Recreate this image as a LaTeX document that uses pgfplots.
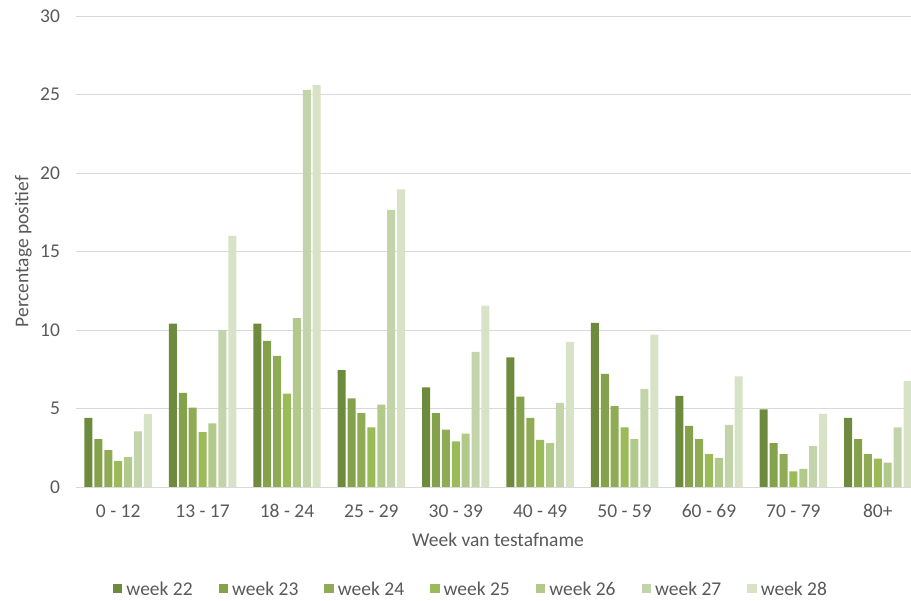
\documentclass[border=0pt]{standalone}
\usepackage{fontspec}
\setmainfont{Carlito}
\usepackage{pgfplots}
\pgfplotsset{compat=1.18}

\definecolor{wk22}{HTML}{6E8A3C}
\definecolor{wk23}{HTML}{84A14B}
\definecolor{wk24}{HTML}{8FAB55}
\definecolor{wk25}{HTML}{9BBB59}
\definecolor{wk26}{HTML}{B2C98C}
\definecolor{wk27}{HTML}{C4D4AA}
\definecolor{wk28}{HTML}{D7E2C6}
\definecolor{txt}{HTML}{595959}
\definecolor{gridgray}{HTML}{D9D9D9}
\newcommand\chartfont{\fontsize{19.5}{23}\selectfont}

\begin{document}
\begin{tikzpicture}
\useasboundingbox (-76pt,-114pt) rectangle (835pt,487pt);
\begin{axis}[
    at={(0pt,0pt)}, anchor=south west,
    scale only axis, width=844pt, height=471pt,
    ybar=1.9pt, bar width=8pt,
    xmin=-0.5, xmax=9.5, ymin=0, ymax=30,
    enlargelimits=false,
    xtick={0,...,9},
    xticklabels={0 - 12, 13 - 17, 18 - 24, 25 - 29, 30 - 39, 40 - 49, 50 - 59, 60 - 69, 70 - 79, 80+},
    ytick={0,5,...,30},
    major tick length=0pt,
    axis x line*=bottom, axis y line*=left,
    x axis line style={draw=gridgray, line width=0.9pt},
    y axis line style={draw=none},
    ymajorgrids, grid style={draw=gridgray, line width=0.9pt},
    /pgf/number format/assume math mode=true,
    tick label style={font=\chartfont, text=txt},
    yticklabel style={anchor=east, xshift=-12.5pt},
    xticklabel style={anchor=base, yshift=-31pt},
    xlabel={Week van testafname},
    ylabel={Percentage positief},
    every axis x label/.style={at={(rel axis cs:0.5,0)}, anchor=base, yshift=-60pt, font=\chartfont, text=txt},
    every axis y label/.style={at={(rel axis cs:0,0.5)}, xshift=-52.7pt, rotate=90, anchor=center, font=\chartfont, text=txt},
    legend columns=7,
    legend image code/.code={\fill[#1] (0pt,-4.5pt) rectangle (9.5pt,4.5pt);},
    legend style={at={(rel axis cs:0.468,0)}, anchor=center, yshift=-102pt,
        draw=none, fill=none, font=\chartfont, text=txt,
        /tikz/every odd column/.append style={column sep=2pt},
        /tikz/every even column/.append style={column sep=24pt}},
]
% week 22
\addplot[draw=none, fill=wk22] coordinates {
  (0,4.4) (1,10.4) (2,10.4) (3,7.45) (4,6.35) (5,8.25) (6,10.45) (7,5.8) (8,4.95) (9,4.4)};
% week 23
\addplot[draw=none, fill=wk23] coordinates {
  (0,3.05) (1,6.0) (2,9.3) (3,5.65) (4,4.7) (5,5.75) (6,7.2) (7,3.9) (8,2.8) (9,3.05)};
% week 24
\addplot[draw=none, fill=wk24] coordinates {
  (0,2.35) (1,5.05) (2,8.35) (3,4.7) (4,3.65) (5,4.4) (6,5.15) (7,3.05) (8,2.1) (9,2.1)};
% week 25
\addplot[draw=none, fill=wk25] coordinates {
  (0,1.65) (1,3.5) (2,5.95) (3,3.8) (4,2.9) (5,3.0) (6,3.8) (7,2.1) (8,1.0) (9,1.8)};
% week 26
\addplot[draw=none, fill=wk26] coordinates {
  (0,1.9) (1,4.05) (2,10.75) (3,5.25) (4,3.4) (5,2.8) (6,3.05) (7,1.85) (8,1.15) (9,1.55)};
% week 27
\addplot[draw=none, fill=wk27] coordinates {
  (0,3.55) (1,10.0) (2,25.3) (3,17.65) (4,8.6) (5,5.35) (6,6.25) (7,3.95) (8,2.6) (9,3.8)};
% week 28
\addplot[draw=none, fill=wk28] coordinates {
  (0,4.65) (1,16.0) (2,25.6) (3,18.95) (4,11.55) (5,9.25) (6,9.7) (7,7.05) (8,4.65) (9,6.75)};
\legend{week 22, week 23, week 24, week 25, week 26, week 27, week 28}
\end{axis}
\end{tikzpicture}
\end{document}
